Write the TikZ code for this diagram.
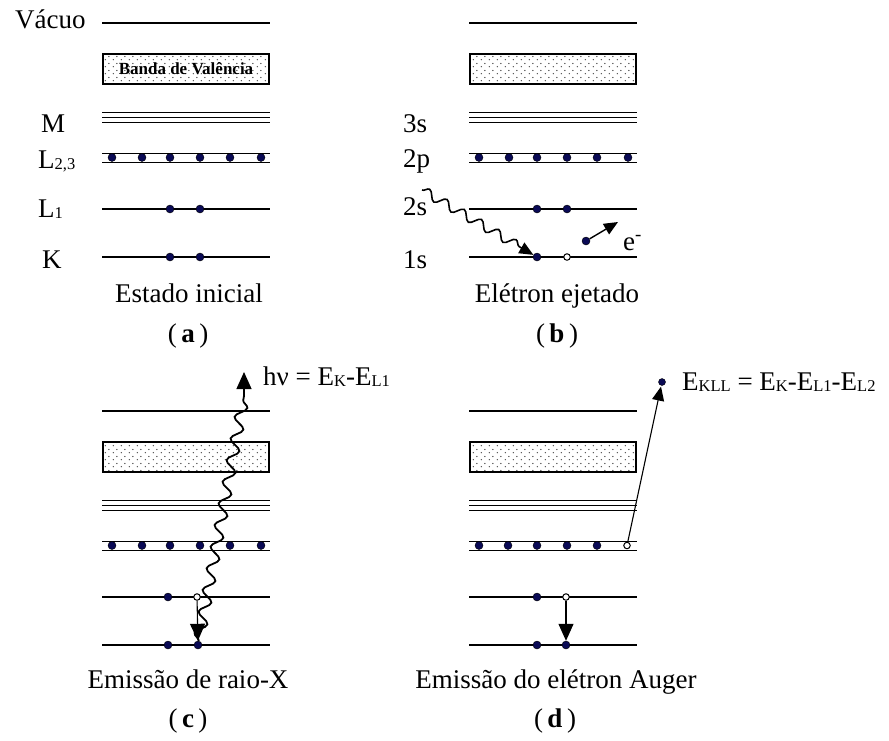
\documentclass[tikz,border=0pt]{standalone}
\usepackage{fontspec}
\setmainfont{Liberation Serif}
\usetikzlibrary{arrows.meta,decorations.pathmorphing,patterns.meta}
\definecolor{navy}{RGB}{10,10,85}
\tikzdeclarepattern{
  name=sdots, type=uncolored,
  bottom left={(0pt,0pt)}, top right={(8pt,7pt)}, tile size={(8pt,7pt)},
  code={\fill (1.5pt,1.5pt) circle (0.8pt); \fill (5.5pt,5pt) circle (0.8pt);}
}
\newcommand\bigfont{\fontsize{27}{31}\selectfont}
\newcommand\bandfont{\fontsize{17}{20}\selectfont\bfseries}
\newcommand\sbs[1]{\raisebox{-1.5pt}{\fontsize{16.5}{18}\selectfont #1}}
\newcommand\levelset{%
  \draw[lvl] (102,23) -- (270,23);
  \draw[band] (103,54) rectangle (269,84);
  \draw[lvl] (102,112.3) -- (270,112.3) (102,117.3) -- (270,117.3) (102,122.3) -- (270,122.3);
  \draw[lvl] (102,153.3) -- (270,153.3) (102,162.7) -- (270,162.7);
  \draw[lvl] (102,209) -- (270,209);
  \draw[lvl] (102,257) -- (270,257);
}
\begin{document}
\begin{tikzpicture}[x=1pt,y=-1pt,
  lvl/.style={line width=1.1pt},
  band/.style={draw, line width=1.3pt, pattern=sdots, pattern color=black!70},
  el/.style={circle, fill=navy, draw=black, line width=.4pt, inner sep=0pt, minimum size=8pt},
  hole/.style={circle, fill=white, draw=black, line width=1pt, inner sep=0pt, minimum size=6.5pt},
  lbl/.style={anchor=base west, inner sep=0pt, font=\bigfont},
  captxt/.style={anchor=base, inner sep=0pt, font=\bigfont},
  bigtip/.style={-{Triangle[length=17pt,width=15pt]}},
  smalltip/.style={-{Triangle[length=14pt,width=12pt]}},
]
\useasboundingbox (0,0) rectangle (889,740);

% ---------- panel a ----------
\begin{scope}
  \levelset
  \node[font=\bandfont, inner sep=0pt] (bandtext) at (186,69) {Banda de Valência};
  \foreach \x [count=\i] in {112,142,170,200,230,261} \node[el] (aP\i) at (\x,157.5) {};
  \node[el] (aL1a) at (170,209) {};
  \node[el] (aL1b) at (200,209) {};
  \node[el] (aKa) at (170,257) {};
  \node[el] (aKb) at (200,257) {};
\end{scope}
\node[lbl] (tvac) at (15,28) {Vácuo};
\node[lbl] (tM) at (41,132) {M};
\node[lbl] (tL23) at (38,168) {L\sbs{2,3}};
\node[lbl] (tL1) at (38,217) {L\sbs{1}};
\node[lbl] (tK) at (42,268) {K};
\node[captxt] (capa) at (189,302) {Estado inicial};
\node[captxt] (laba) at (188,342) {(\,\textbf{a}\,)};

% ---------- panel b ----------
\begin{scope}[shift={(367,0)}]
  \levelset
  \foreach \x [count=\i] in {112,142,170,200,230,261} \node[el] (bP\i) at (\x,157.5) {};
  \node[el] (bL1a) at (170,209) {};
  \node[el] (bL1b) at (200,209) {};
  \node[el] (bKa) at (170,257) {};
  \node[hole] (bKb) at (200,257) {};
  \node[el] (bej) at (219,241) {};
  \coordinate (bejt) at (251,222);
  \coordinate (bw) at (55,190);
\end{scope}
\node[lbl] (t3s) at (403,132) {3s};
\node[lbl] (t2p) at (403,167) {2p};
\node[lbl] (t2s) at (403,215) {2s};
\node[lbl] (t1s) at (403,268) {1s};
\node[lbl] (te) at (623,250) {e\textsuperscript{-}};
\draw[line width=1.6pt, decorate, decoration={snake, amplitude=4.5pt, segment length=20pt, post length=14pt}, smalltip] (bw) -- (bKa);
\draw[line width=1.4pt, smalltip] (bej) -- (bejt);
\node[captxt] (capb) at (557,302) {Elétron ejetado};
\node[captxt] (labb) at (557,342) {(\,\textbf{b}\,)};

% ---------- panel c ----------
\begin{scope}[shift={(0,388)}]
  \levelset
  \foreach \x [count=\i] in {112,142,170,200,230,261} \node[el] (cP\i) at (\x,157.5) {};
  \node[el] (cL1a) at (168,209) {};
  \node[hole] (cL1b) at (197,209) {};
  \node[el] (cKa) at (168,257) {};
  \node[el] (cKb) at (198,257) {};
  \coordinate (cwt) at (244,8);
  \coordinate (chv) at (244,-16);
\end{scope}
\draw[line width=1.1pt, bigtip] (cL1b) -- (cKb);
\draw[line width=1.8pt, decorate, decoration={snake, amplitude=5.5pt, segment length=22pt}] (cKb) -- (cwt);
\draw[line width=1.3pt, bigtip] (cwt) -- (chv);
\node[lbl] (thv) at (263,385) {hν = E\sbs{K}-E\sbs{L1}};
\node[captxt] (capc) at (188,688) {Emissão de raio-X};
\node[captxt] (labc) at (188,727) {(\,\textbf{c}\,)};

% ---------- panel d ----------
\begin{scope}[shift={(367,388)}]
  \levelset
  \foreach \x [count=\i] in {112,141,170,200,230} \node[el] (dP\i) at (\x,157.5) {};
  \node[hole] (dP6) at (260,157.5) {};
  \node[el] (dL1a) at (170,209) {};
  \node[hole] (dL1b) at (199,209) {};
  \node[el] (dKa) at (170,257) {};
  \node[el] (dKb) at (199,257) {};
  \node[el, minimum size=7pt] (dfree) at (295,-6) {};
\end{scope}
\draw[line width=1.1pt, bigtip] (dL1b) -- (dKb);
\draw[line width=1.1pt, smalltip, shorten >=1pt] (dP6) -- (dfree);
\node[lbl] (tkll) at (682,390) {E\sbs{KLL} = E\sbs{K}-E\sbs{L1}-E\sbs{L2}};
\node[captxt] (capd) at (556,688) {Emissão do elétron Auger};
\node[captxt] (labd) at (555,727) {(\,\textbf{d}\,)};
\end{tikzpicture}
\end{document}
